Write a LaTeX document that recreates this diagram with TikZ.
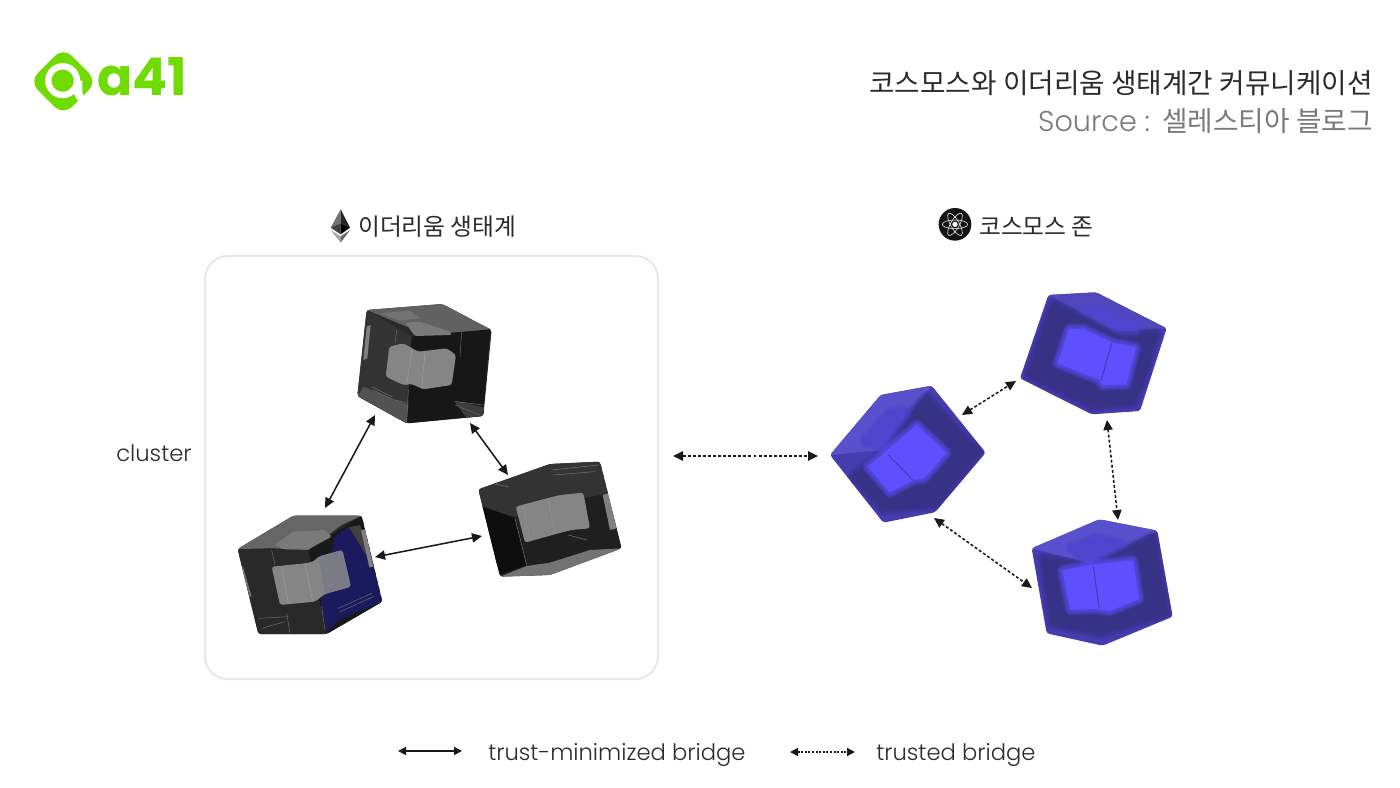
\documentclass[tikz,border=0pt]{standalone}
\usepackage{fontspec}
\usetikzlibrary{arrows.meta}
\setmainfont{Poppins Light}
\newfontfamily\logofont{Poppins}
\newfontfamily\krfont{Noto Sans CJK KR}
\definecolor{logogreen}{HTML}{6FDB00}
\definecolor{inktext}{HTML}{2B2B2B}
\definecolor{greytext}{HTML}{7A7A7A}
\definecolor{bluetop}{HTML}{5850CC}
\definecolor{bluedark}{HTML}{383286}
\definecolor{bluemid}{HTML}{453CB0}
\definecolor{blueglow}{HTML}{5F50FF}
\definecolor{blockgrey}{HTML}{858585}
\definecolor{navyglass}{HTML}{1C1A5E}
\tikzset{
  zoomed/.style={x=.25pt,y=-.25pt},
  trustarrow/.style={{Triangle[length=7.5pt,width=7pt]}-{Triangle[length=7.5pt,width=7pt]},line width=1.15pt,black!90},
  dotarrow/.style={{Triangle[length=7.5pt,width=7pt]}-{Triangle[length=7.5pt,width=7pt]},line width=1.15pt,black!90,dash pattern=on 2.2pt off 1.6pt},
  smalltrust/.style={{Triangle[length=6pt,width=6pt]}-{Triangle[length=6pt,width=6pt]},line width=1.15pt,black!90},
  smalldot/.style={{Triangle[length=6pt,width=6pt]}-{Triangle[length=6pt,width=6pt]},line width=1.15pt,black!90,dash pattern=on 1.5pt off 1.2pt},
  krlabel/.style={font=\krfont\fontsize{17.8pt}{20pt}\selectfont,text=inktext,inner sep=0pt},
  latinlabel/.style={font=\fontsize{17pt}{20pt}\selectfont,text=inktext,inner sep=0pt},
  thinedge/.style={line width=.4pt,line cap=round},
  card/.style={draw=black!9,line width=1.5pt,fill=white,rounded corners=17pt},
}
% soft-edged block: many faint outlines stacked around a solid fill
\newcommand{\glowblock}[2]{%
  \foreach \glowwidth in {9,8,7,6,5,4,3,2,1}{%
    \fill[#1,opacity=.14,draw=#1,line width=\glowwidth pt,line join=round] #2;
  }%
  \fill[#1,draw=#1,line width=.4pt,line join=round] #2;
}
\begin{document}
\begin{tikzpicture}[x=.75pt,y=-.75pt]
\useasboundingbox (0,0) rectangle (1400,788);
\fill[white] (0,0) rectangle (1400,788);

% ---------- logo
\begin{scope}[shift={(20,40)},zoomed]
  \fill[logogreen,rounded corners=9pt] (130,22) -- (232,125) -- (130,226) -- (28,125) -- cycle;
  \draw[white,line width=4.8pt] (128,122) circle (43);
  \fill[white] (161,122) -- (187,122) -- (187,150) .. controls (187,165) and (190,170) .. (200,176) -- (172,180) .. controls (165,170) and (161,160) .. (161,150) -- cycle;
\end{scope}
\node[inner sep=0pt,anchor=base west,text=logogreen,font=\logofont\fontsize{39pt}{40pt}\selectfont\bfseries] (logotext) at (97,96) {a41};

% ---------- heading
\node[krlabel,anchor=base east,font=\krfont\fontsize{20.8pt}{22pt}\selectfont] (title) at (1373,94) {코스모스와 이더리움 생태계간 커뮤니케이션};
\node[inner sep=0pt,anchor=base east,text=greytext,font=\krfont\fontsize{20.8pt}{22pt}\selectfont] (source) at (1373,132) {{\rmfamily\fontsize{21.5pt}{22pt}\selectfont Source :}\ \ 셀레스티아 블로그};

% ---------- group labels
\node[krlabel,anchor=base west] (ethlabel) at (358,236) {이더리움 생태계};
\node[krlabel,anchor=base west] (coslabel) at (979,236) {코스모스 존};
\node[latinlabel,anchor=base west] (clusterlabel) at (116,461) {cluster};

% ethereum mark
\begin{scope}[shift={(320,200)},zoomed]
  \fill[black!55] (62,28) -- (32,83) -- (62,70) -- cycle;
  \fill[black!85] (62,28) -- (90,83) -- (62,70) -- cycle;
  \fill[black!75] (32,83) -- (62,70) -- (62,103) -- cycle;
  \fill[black] (90,83) -- (62,70) -- (62,103) -- cycle;
  \fill[black!35] (32,90) -- (62,109) -- (62,128) -- cycle;
  \fill[black!60] (90,90) -- (62,109) -- (62,128) -- cycle;
\end{scope}
% cosmos mark
\begin{scope}[shift={(930,200)},zoomed]
  \fill[black!92] (75,73) circle (49);
  \draw[white,line width=.4pt] (75,73) ellipse [x radius=38,y radius=13];
  \draw[white,line width=.4pt,rotate around={60:(75,73)}] (75,73) ellipse [x radius=38,y radius=13];
  \draw[white,line width=.4pt,rotate around={-60:(75,73)}] (75,73) ellipse [x radius=38,y radius=13];
  \fill[white] (75,73) circle (8);
\end{scope}

% ---------- cluster card
\draw[card] (205,256) rectangle (658,679);

% ---------- black cube: top
\begin{scope}[shift={(340,290)},zoomed]
  \begin{scope}
    \clip[rounded corners=2pt] (80,60) -- (307,42) -- (455,120) -- (430,378) -- (200,400) -- (52,318) -- cycle;
    \fill[black!84] (40,30) rectangle (470,410);
    \fill[black!62] (80,60) -- (307,42) -- (455,120) -- (335,128) -- (200,110) -- cycle;
    \fill[black!91] (215,140) -- (450,118) -- (430,378) -- (200,400) -- cycle;
    \fill[black!80] (80,60) -- (215,140) -- (200,400) -- (52,318) -- cycle;
    \fill[black!50,opacity=.6] (120,70) -- (210,62) -- (240,85) -- (180,92) -- cycle;
    \fill[black!50] (80,110) -- (92,105) -- (82,205) -- (70,210) -- cycle;
    \fill[black!68] (52,318) -- (70,290) -- (205,345) -- (200,400) -- cycle;
    \fill[black!76] (342,332) -- (432,352) -- (428,380) -- (380,385) -- cycle;
    \draw[black!58,thinedge] (95,290) -- (155,320) (100,300) -- (150,325) (165,330) -- (205,340) (345,345) -- (420,375) (350,335) -- (430,345);
    \draw[black!60,thinedge] (170,120) -- (165,160) (365,125) -- (360,200) (205,300) -- (200,395);
  \end{scope}
  \fill[black!52,rounded corners=1pt] (195,98) -- (240,95) -- (330,125) -- (335,135) -- (225,138) -- cycle;
  \fill[blockgrey,rounded corners=2pt] (148,170) -- (190,160) -- (235,185) -- (320,175) -- (348,195) -- (335,285) -- (250,298) -- (215,282) -- (190,285) -- (137,260) -- cycle;
  \draw[black!38,thinedge] (215,180) -- (200,285) (255,188) -- (245,295);
\end{scope}

% ---------- black cube: lower left
\begin{scope}[shift={(225,450)},zoomed]
  \begin{scope}
    \clip[rounded corners=2pt] (205,197) -- (410,197) -- (472,455) -- (305,552) -- (100,552) -- (38,297) -- cycle;
    \fill[black!85] (20,180) rectangle (490,560);
    \fill[black!84] (38,297) -- (250,300) -- (305,552) -- (100,552) -- cycle;
    \fill[black!90] (250,300) -- (410,197) -- (472,455) -- (305,552) -- cycle;
    \fill[black!60] (38,297) -- (205,197) -- (410,197) -- (350,225) -- (250,300) -- (140,295) -- cycle;
    \fill[navyglass] (330,258) -- (372,232) -- (445,350) -- (472,455) -- (340,510) -- (305,545) -- (288,460) -- cycle;
    \fill[black!75] (372,232) -- (405,225) -- (445,350) -- cycle;
    \fill[black!50] (408,240) -- (420,238) -- (445,350) -- (433,352) -- cycle;
    \fill[black!55] (48,350) -- (54,350) -- (80,440) -- (74,440) -- cycle;
    \draw[black!58,thinedge] (100,505) -- (190,500) (110,535) -- (180,515) (185,490) -- (195,550) (340,475) -- (440,430) (345,485) -- (445,440) (290,470) -- (300,540);
    \draw[black!60,thinedge] (140,300) -- (150,345);
  \end{scope}
  \fill[black!52,rounded corners=1pt] (148,285) -- (205,245) -- (300,240) -- (320,260) -- (250,298) -- (180,298) -- cycle;
  \fill[blockgrey,rounded corners=2pt] (140,350) -- (240,340) -- (265,335) -- (280,320) -- (352,300) -- (378,410) -- (300,432) -- (270,455) -- (165,465) -- cycle;
  \fill[navyglass!30!white!65!black,opacity=.8,rounded corners=2pt] (280,320) -- (352,300) -- (378,410) -- (300,432) -- cycle;
  \draw[black!38,thinedge] (170,350) -- (190,460) (240,340) -- (262,450);
\end{scope}

% ---------- black cube: right
\begin{scope}[shift={(225,450)},zoomed]
  \begin{scope}
    \clip[rounded corners=2pt] (760,118) -- (975,42) -- (1125,35) -- (1190,295) -- (975,375) -- (825,380) -- cycle;
    \fill[black!88] (740,20) rectangle (1200,390);
    \fill[black!80] (760,118) -- (975,42) -- (1125,35) -- (1150,130) -- (1000,160) -- (870,200) -- (775,175) -- cycle;
    \fill[black!95] (762,165) -- (870,205) -- (905,345) -- (825,372) -- cycle;
    \fill[black!55] (825,380) -- (905,348) -- (975,338) -- (1095,300) -- (1190,295) -- (975,375) -- cycle;
    \fill[black!50] (1133,135) -- (1150,130) -- (1175,235) -- (1155,240) -- cycle;
    \draw[black!55,thinedge] (980,60) -- (1120,45) (985,75) -- (1110,65) (800,100) -- (850,110) (870,205) -- (905,345) (1030,255) -- (1085,270);
  \end{scope}
  \fill[blockgrey,rounded corners=2pt] (872,170) -- (965,145) -- (1005,135) -- (1075,128) -- (1095,235) -- (1040,240) -- (1000,250) -- (900,278) -- cycle;
  \draw[black!42,thinedge] (895,170) -- (915,270) (970,150) -- (990,250);
\end{scope}

% ---------- blue cube: left
\begin{scope}[shift={(820,280)},zoomed]
  \begin{scope}
    \clip[rounded corners=2pt] (30,525) -- (182,345) -- (335,317) -- (497,518) -- (345,697) -- (190,728) -- cycle;
    \fill[bluemid] (20,310) rectangle (510,735);
    \fill[bluetop] (30,525) -- (182,345) -- (335,317) -- (190,510) -- cycle;
    \glowblock{bluedark}{(320,350) -- (478,518) -- (345,675) -- (190,690) -- (100,590) -- (190,515) -- (240,440) -- cycle}
  \end{scope}
  \glowblock{bluemid!60!blueglow}{(135,478) -- (210,398) -- (258,392) -- (258,402) -- (190,500) -- (135,488) -- cycle}
  \glowblock{blueglow}{(290,436) -- (378,518) -- (312,594) -- (282,598) -- (210,636) -- (144,560) -- (190,522) -- cycle}
  \draw[bluemid,line width=.8pt] (205,525) -- (278,600);
\end{scope}

% ---------- blue cube: upper right
\begin{scope}[shift={(820,280)},zoomed]
  \begin{scope}
    \clip[rounded corners=2pt] (685,45) -- (828,37) -- (1040,145) -- (960,393) -- (815,403) -- (600,295) -- cycle;
    \fill[bluemid] (590,30) rectangle (1050,410);
    \fill[bluetop!75!bluedark] (685,45) -- (828,37) -- (1040,145) -- (885,155) -- cycle;
    \glowblock{bluedark}{(700,70) -- (880,165) -- (1010,160) -- (970,300) -- (940,370) -- (820,380) -- (625,285) -- cycle}
  \end{scope}
  \glowblock{bluemid!60!blueglow}{(790,88) -- (840,83) -- (950,132) -- (946,152) -- (905,152) -- cycle}
  \glowblock{blueglow}{(748,148) -- (790,148) -- (875,188) -- (946,203) -- (918,312) -- (850,315) -- (835,297) -- (714,250) -- cycle}
  \draw[bluemid,line width=.8pt] (875,190) -- (843,302);
\end{scope}

% ---------- blue cube: lower right
\begin{scope}[shift={(820,280)},zoomed]
  \begin{scope}
    \clip[rounded corners=2pt] (635,805) -- (838,718) -- (1012,752) -- (1058,1010) -- (848,1097) -- (680,1060) -- cycle;
    \fill[bluemid] (625,710) rectangle (1070,1105);
    \fill[bluetop] (635,805) -- (838,718) -- (1012,752) -- (808,850) -- cycle;
    \glowblock{bluedark}{(670,835) -- (808,860) -- (1000,770) -- (1040,1000) -- (840,1060) -- (695,1030) -- cycle}
  \end{scope}
  \glowblock{bluemid!60!blueglow}{(750,802) -- (835,774) -- (910,792) -- (808,842) -- cycle}
  \glowblock{blueglow}{(728,872) -- (808,856) -- (938,842) -- (956,956) -- (870,992) -- (830,986) -- (752,988) -- cycle}
  \draw[bluemid,line width=.8pt] (820,860) -- (838,986);
\end{scope}

% ---------- connectors
\coordinate (ethTopA) at (375,415);
\coordinate (ethLeftA) at (325,508);
\coordinate (ethTopB) at (470,423);
\coordinate (ethRightA) at (508,475);
\coordinate (ethLeftB) at (375,557);
\coordinate (ethRightB) at (482,536);
\coordinate (clusterEnd) at (673,456);
\coordinate (zoneEnd) at (818,456);
\coordinate (zoneLeftA) at (962,415);
\coordinate (zoneTopA) at (1016,381);
\coordinate (zoneTopB) at (1107,420);
\coordinate (zoneLowA) at (1118,520);
\coordinate (zoneLeftB) at (934,518);
\coordinate (zoneLowB) at (1032,588);
\draw[trustarrow] (ethTopA) -- (ethLeftA);
\draw[trustarrow] (ethTopB) -- (ethRightA);
\draw[trustarrow] (ethLeftB) -- (ethRightB);
\draw[dotarrow] (clusterEnd) -- (zoneEnd);
\draw[dotarrow] (zoneLeftA) -- (zoneTopA);
\draw[dotarrow] (zoneTopB) -- (zoneLowA);
\draw[dotarrow] (zoneLeftB) -- (zoneLowB);

% ---------- legend
\coordinate (legendA) at (398,751);
\coordinate (legendB) at (462,751);
\coordinate (legendC) at (790,752);
\coordinate (legendD) at (855,752);
\draw[smalltrust] (legendA) -- (legendB);
\draw[smalldot] (legendC) -- (legendD);
\node[latinlabel,anchor=base west] (legendtrust) at (488,760) {trust-minimized bridge};
\node[latinlabel,anchor=base west] (legendtrusted) at (876,760) {trusted bridge};
\end{tikzpicture}
\end{document}
